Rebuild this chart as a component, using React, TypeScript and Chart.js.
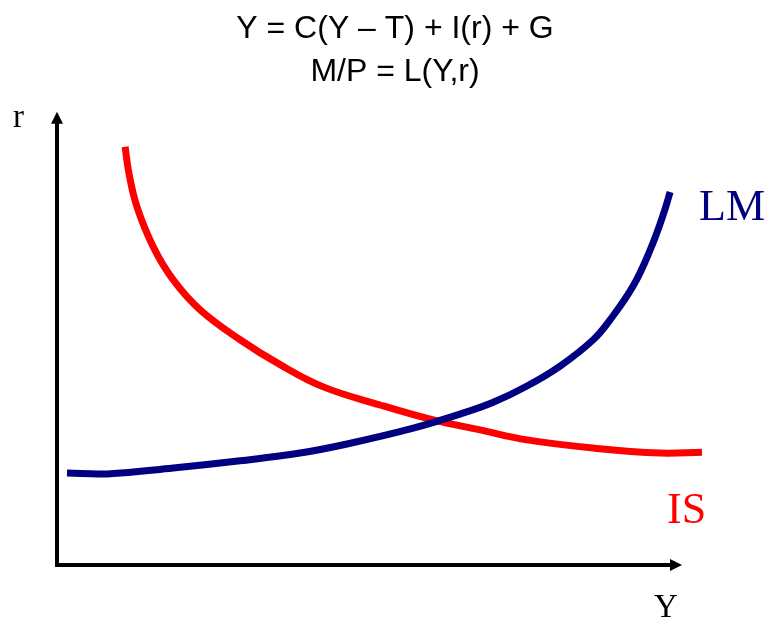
import React, { useEffect, useRef } from "react";
import { Chart, registerables } from "chart.js";

Chart.register(...registerables);

const titleLines = ["Y = C(Y \u2013 T) + I(r) + G", "M/P = L(Y,r)"];

const isX = [10.9, 11.5, 12.8, 15.4, 18.6, 22.9, 29.3, 35.7, 42.6, 51.7, 60.2, 67.7, 75.2, 85.8, 96.5, 103.2];
const isY = [92.3, 86.5, 79.0, 70.2, 62.9, 56.3, 49.7, 44.2, 39.3, 35.3, 32.0, 29.8, 27.6, 25.8, 24.7, 24.9];

const lmX = [1.6, 8.0, 18.6, 29.3, 38.9, 46.4, 57.0, 64.5, 69.8, 75.2, 80.5, 85.8, 88.5, 92.2, 94.9, 97.0, 98.1];
const lmY = [20.3, 20.1, 21.4, 23.0, 24.7, 26.7, 30.2, 33.3, 35.9, 39.5, 43.9, 49.7, 54.1, 61.6, 69.5, 77.3, 82.3];

const axisLabels = { y: "r", x: "Y" };
const curveLabels = { lm: "LM", is: "IS" };

const axesPlugin = {
  id: "axesArrows",
  beforeDatasetsDraw(chart: any) {
    const { ctx, scales } = chart;
    const x0 = scales.x.getPixelForValue(0);
    const x1 = scales.x.getPixelForValue(100);
    const y0 = scales.y.getPixelForValue(0);
    const y1 = scales.y.getPixelForValue(100);
    const ah = 12;
    const aw = 6;
    ctx.save();
    ctx.strokeStyle = "#000";
    ctx.fillStyle = "#000";
    ctx.lineWidth = 4;
    ctx.lineJoin = "miter";
    ctx.lineCap = "butt";
    ctx.beginPath();
    ctx.moveTo(x0, y1 + ah - 1);
    ctx.lineTo(x0, y0);
    ctx.lineTo(x1 - ah + 1, y0);
    ctx.stroke();
    ctx.beginPath();
    ctx.moveTo(x0, y1);
    ctx.lineTo(x0 - aw, y1 + ah);
    ctx.lineTo(x0 + aw, y1 + ah);
    ctx.closePath();
    ctx.fill();
    ctx.beginPath();
    ctx.moveTo(x1, y0);
    ctx.lineTo(x1 - ah, y0 - aw);
    ctx.lineTo(x1 - ah, y0 + aw);
    ctx.closePath();
    ctx.fill();
    ctx.restore();
  },
  afterDraw(chart: any) {
    const { ctx } = chart;
    ctx.save();
    ctx.textBaseline = "alphabetic";
    ctx.textAlign = "left";
    ctx.fillStyle = "#000";
    ctx.font = "33px 'Liberation Serif', 'Times New Roman', serif";
    ctx.fillText(axisLabels.y, 13, 127);
    ctx.fillText(axisLabels.x, 654, 617);
    ctx.font = "44px 'Liberation Serif', 'Times New Roman', serif";
    ctx.fillStyle = "#000080";
    ctx.fillText(curveLabels.lm, 699, 220);
    ctx.fillStyle = "#FF0000";
    ctx.fillText(curveLabels.is, 667, 523);
    ctx.restore();
  },
};

export default function App() {
  const ref = useRef<HTMLCanvasElement | null>(null);
  useEffect(() => {
    if (!ref.current) return;
    const chart = new Chart(ref.current, {
      type: "line",
      data: {
        datasets: [
          {
            label: "LM",
            data: lmX.map((x, i) => ({ x, y: lmY[i] })),
            borderColor: "#000080",
            borderWidth: 7,
            pointRadius: 0,
            tension: 0.4,
            clip: false as any,
            fill: false,
          },
          {
            label: "IS",
            data: isX.map((x, i) => ({ x, y: isY[i] })),
            borderColor: "#FF0000",
            borderWidth: 7,
            pointRadius: 0,
            tension: 0.4,
            clip: false as any,
            fill: false,
          },
        ],
      },
      options: {
        animation: false,
        responsive: false,
        maintainAspectRatio: false,
        layout: { padding: { left: 57, right: 38, top: 0, bottom: 53 } },
        scales: {
          x: { type: "linear", min: 0, max: 108.16, display: false },
          y: { type: "linear", min: 0, max: 100, display: false },
        },
        plugins: {
          legend: { display: false },
          tooltip: { enabled: false },
          title: {
            display: true,
            text: titleLines,
            color: "#000",
            font: { family: "'Liberation Sans', Arial, sans-serif", size: 32, weight: "normal", lineHeight: 1.34 },
            padding: { top: 8, bottom: 18 },
          },
        },
      },
      plugins: [axesPlugin],
    });
    return () => chart.destroy();
  }, []);
  return (
    <div style={{ position: "absolute", left: 0, top: 0, width: 771, height: 618, background: "#fff" }}>
      <canvas ref={ref} width={771} height={618} style={{ width: 771, height: 618 }} />
    </div>
  );
}
